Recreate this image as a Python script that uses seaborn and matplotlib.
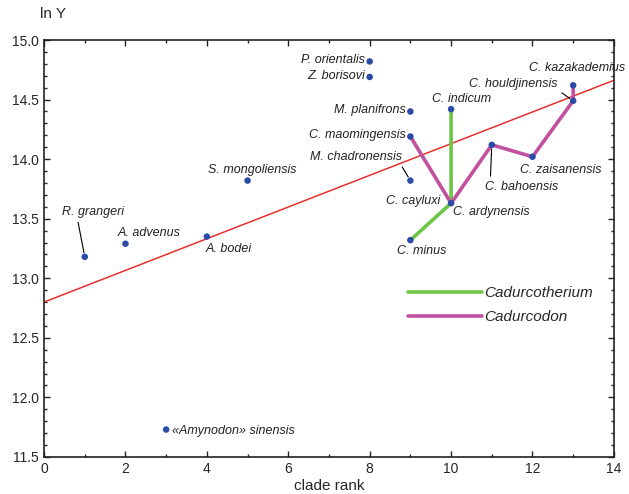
import numpy as np
import pandas as pd
import matplotlib
matplotlib.use("Agg")
import matplotlib.pyplot as plt
import matplotlib.ticker as ticker
import seaborn as sns

# species data: clade rank vs ln Y
species = ["R. grangeri", "A. advenus", "«Amynodon» sinensis", "A. bodei", "S. mongoliensis",
           "P. orientalis", "Z. borisovi", "M. planifrons", "C. maomingensis", "M. chadronensis",
           "C. minus", "C. indicum", "C. ardynensis", "C. bahoensis", "C. zaisanensis",
           "C. houldjinensis", "C. kazakademius"]
clade_rank = [1, 2, 3, 4, 5, 8, 8, 9, 9, 9, 9, 10, 10, 11, 12, 13, 13]
ln_y = [13.18, 13.29, 11.73, 13.35, 13.82, 14.82, 14.69, 14.40, 14.19, 13.82,
        13.32, 14.42, 13.63, 14.12, 14.02, 14.49, 14.62]

# lineages (paths through species)
cadurcotherium = ["C. minus", "C. ardynensis", "C. indicum"]
cadurcodon = ["C. maomingensis", "C. ardynensis", "C. bahoensis", "C. zaisanensis",
              "C. houldjinensis", "C. kazakademius"]

# regression line
reg_intercept = 12.80
reg_slope = 0.133

pts = pd.DataFrame({"species": species, "rank": clade_rank, "lnY": ln_y})
lookup = pts.set_index("species")
rows = []
for genus, path in [("Cadurcotherium", cadurcotherium), ("Cadurcodon", cadurcodon)]:
    for i, sp in enumerate(path):
        rows.append({"genus": genus, "order": i, "rank": lookup.loc[sp, "rank"],
                     "lnY": lookup.loc[sp, "lnY"]})
lines = pd.DataFrame(rows)

sns.set_theme(style="ticks")
plt.rcParams["font.family"] = ["Liberation Sans", "DejaVu Sans"]

fig = plt.figure(figsize=(6.29, 4.94), dpi=100)
ax = fig.add_axes([0.070, 0.075, 0.906, 0.844])

ax.axline((0, reg_intercept), slope=reg_slope, color="#e8312f", lw=1.1, zorder=1)

sns.lineplot(data=lines, x="rank", y="lnY", hue="genus", sort=False, estimator=None,
             units="genus", palette={"Cadurcotherium": "#6cc644", "Cadurcodon": "#c2509f"},
             lw=2.6, ax=ax, zorder=2)
sns.scatterplot(data=pts, x="rank", y="lnY", color="#2a4ca8", s=22, edgecolor="none",
                legend=False, ax=ax, zorder=3)

# label placement: (dx, dy) in pixels, ha, leader relpos or None
labels = {
    "R. grangeri": (8, 45, "center", (0.25, 0)),
    "A. advenus": (24, 11, "center", None),
    "«Amynodon» sinensis": (6, -1, "left", None),
    "A. bodei": (22, -12, "center", None),
    "S. mongoliensis": (5, 11, "center", None),
    "P. orientalis": (-5, 1, "right", None),
    "Z. borisovi": (-5, 1, "right", None),
    "M. planifrons": (-5, 1, "right", None),
    "C. maomingensis": (-5, 2, "right", None),
    "M. chadronensis": (-54, 24, "center", (0.97, 0)),
    "C. minus": (11, -11, "center", None),
    "C. indicum": (10, 10, "center", None),
    "C. ardynensis": (2, -9, "left", None),
    "C. bahoensis": (30, -42, "center", (0.07, 1)),
    "C. zaisanensis": (28, -13, "center", None),
    "C. houldjinensis": (-60, 17, "center", (1, 0)),
    "C. kazakademius": (4, 17, "center", None),
}
for sp, (dx, dy, ha, rel) in labels.items():
    xy = (lookup.loc[sp, "rank"], lookup.loc[sp, "lnY"])
    kw = {}
    if rel is not None:
        kw["arrowprops"] = dict(arrowstyle="-", color="black", lw=0.8, relpos=rel,
                                shrinkA=1, shrinkB=3)
    ax.annotate(sp, xy, xytext=(dx, dy), textcoords="offset pixels", ha=ha, va="center",
                fontsize=9, style="italic", color="#222222", **kw)
ax.annotate("C. cayluxi", (lookup.loc["C. ardynensis", "rank"], lookup.loc["C. ardynensis", "lnY"]),
            xytext=(-11, 2), textcoords="offset pixels", ha="right", va="center",
            fontsize=9, style="italic", color="#222222")

ax.set_xlim(0, 14)
ax.set_ylim(11.5, 15.0)
ax.xaxis.set_major_locator(ticker.MultipleLocator(2))
ax.xaxis.set_minor_locator(ticker.MultipleLocator(1))
ax.yaxis.set_major_locator(ticker.MultipleLocator(0.5))
ax.yaxis.set_minor_locator(ticker.MultipleLocator(0.1))
ax.yaxis.set_major_formatter(ticker.FormatStrFormatter("%.1f"))
ax.tick_params(which="both", direction="in", top=True, right=True, labelsize=10,
               color="#222222")
ax.tick_params(which="major", length=4, width=1)
ax.tick_params(which="minor", length=2.5, width=1)
for s in ax.spines.values():
    s.set_linewidth(1.2)
    s.set_color("#222222")

ax.set_xlabel("clade rank", fontsize=11, labelpad=2)
ax.set_ylabel("")
fig.text(0.064, 0.985, "ln Y", fontsize=11, ha="left", va="top")

leg = ax.legend(loc="upper left", bbox_to_anchor=(0.639, 0.41), frameon=False,
                borderpad=0, borderaxespad=0, handlelength=4.8, handletextpad=0.2,
                labelspacing=0.68, prop={"size": 11, "style": "italic"})

fig.savefig("out.png", dpi=100)
